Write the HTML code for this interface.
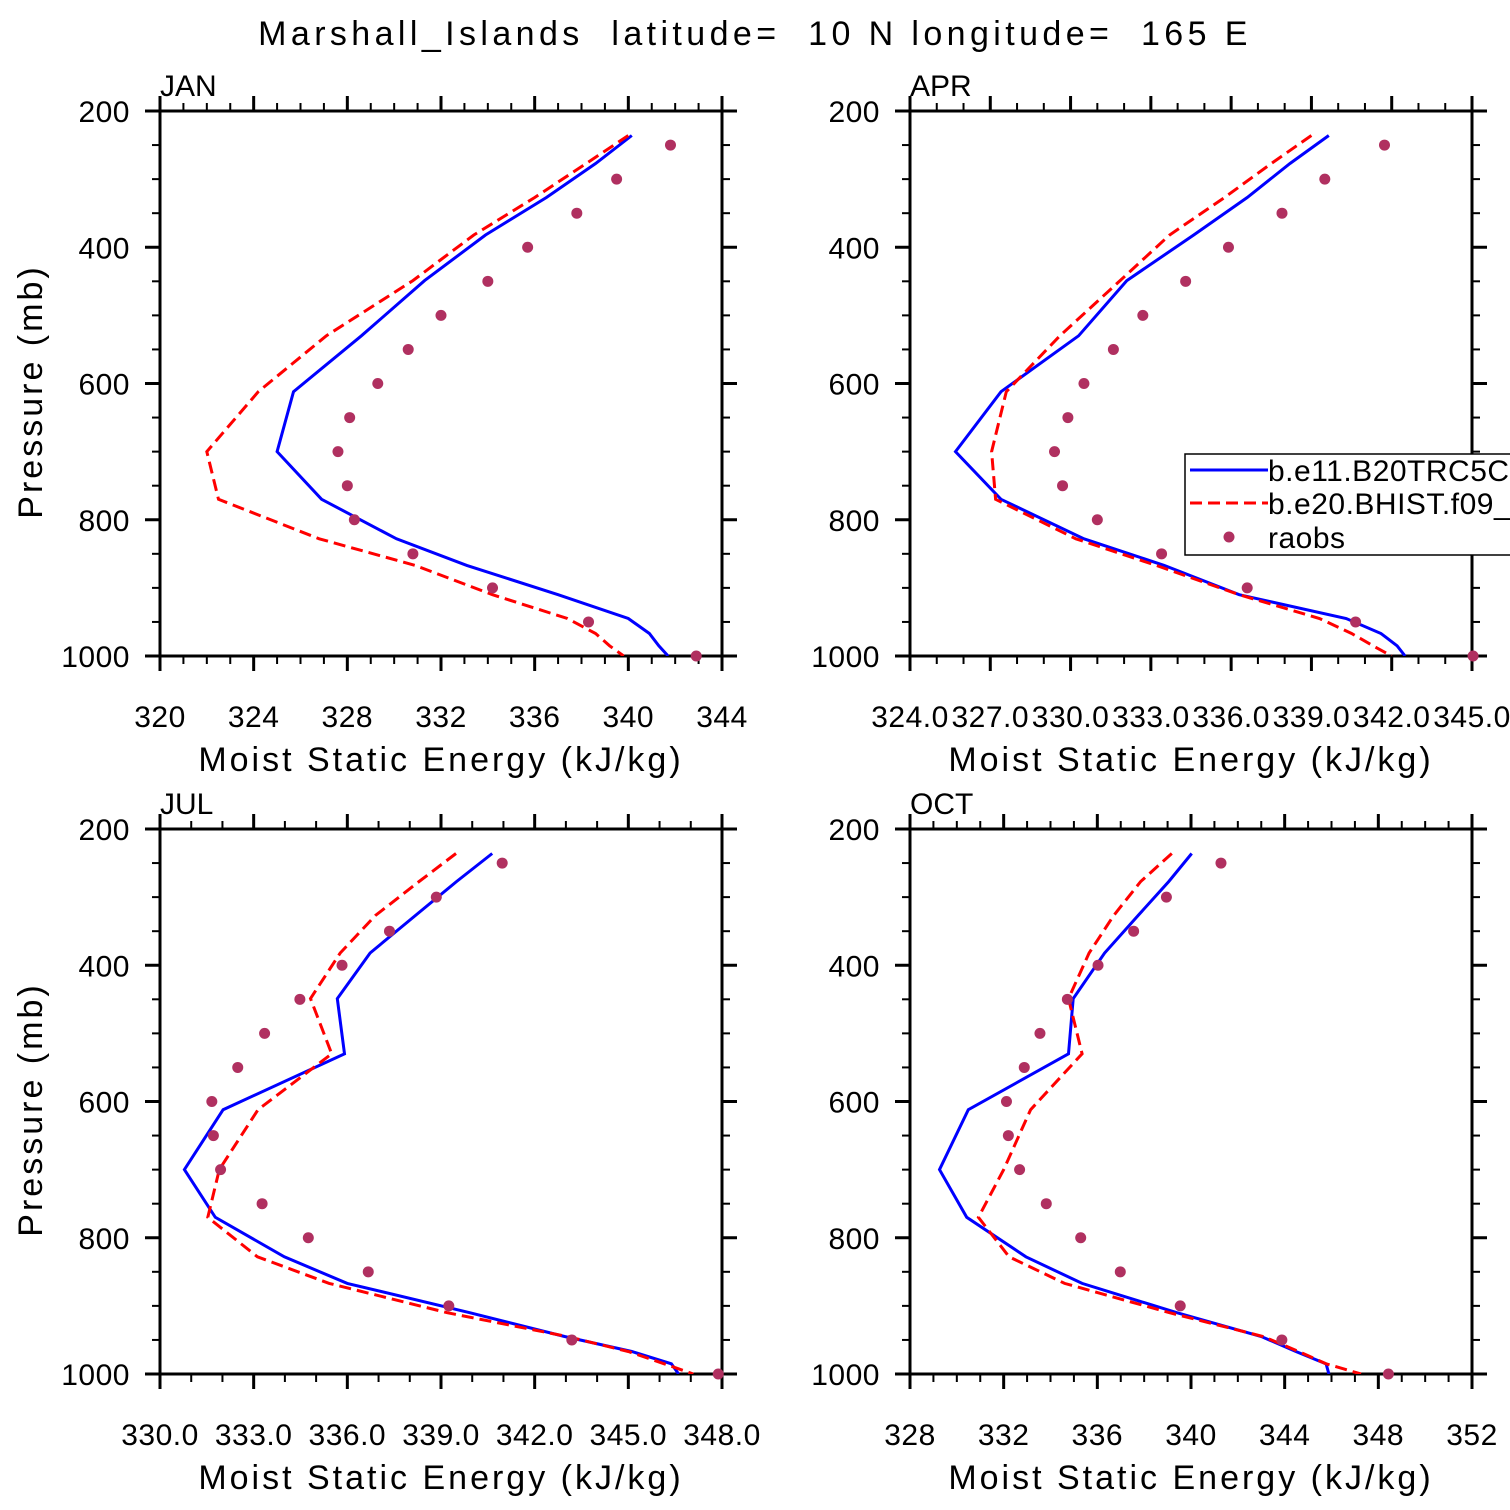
<!DOCTYPE html>
<html><head><meta charset="utf-8"><style>
html,body{margin:0;padding:0;background:#fff;}
svg{display:block;font-family:"Liberation Sans",sans-serif;}
text{white-space:pre;}
</style></head><body>
<svg id="fig" width="1510" height="1510" viewBox="0 0 1510 1510" xmlns="http://www.w3.org/2000/svg">
<rect width="1510" height="1510" fill="#fff"/>
<text x="755" y="45" font-size="34" text-anchor="middle" letter-spacing="4.4" xml:space="preserve">Marshall_Islands  latitude=  10 N longitude=  165 E</text>
</svg>
<script>
const modelLevels = [236,277,327,382,449,530,612,700,770,828,867,910,945,967,985,1000];
const obsLevels = [250,300,350,400,450,500,550,600,650,700,750,800,850,900,950,1000];
const pTicks = [200,400,600,800,1000];

const janBlue = [340.15,338.6,336.5,333.9,331.3,328.6,325.7,325.0,326.9,330.1,333.1,337.0,340.0,340.9,341.3,341.7];
const janRed = [340.0,338.2,336.0,333.4,330.8,327.1,324.2,322.0,322.5,326.8,330.9,334.2,337.4,338.6,339.2,339.8];
const janObs = [341.8,339.5,337.8,335.7,334.0,332.0,330.6,329.3,328.1,327.6,328.0,328.3,330.8,334.2,338.3,342.9];
const janTicks = [320,324,328,332,336,340,344];

const aprBlue = [339.65,338.2,336.6,334.6,332.1,330.3,327.4,325.7,327.4,330.5,333.5,336.3,340.3,341.6,342.2,342.5];
const aprRed = [339.0,337.5,335.75,333.7,331.85,329.6,327.6,327.05,327.2,330.2,333.2,336.3,339.3,340.5,341.3,342.0];
const aprObs = [341.73,339.5,337.9,335.9,334.3,332.7,331.6,330.5,329.9,329.4,329.7,331.0,333.4,336.6,340.65,345.04];
const aprTicks = [324,327,330,333,336,339,342,345];

const julBlue = [340.64,339.5,338.18,336.73,335.68,335.91,332.02,330.78,331.77,333.98,336.0,339.92,342.96,345.11,346.38,346.61];
const julRed = [339.48,338.3,336.9,335.77,334.82,335.5,333.14,331.9,331.53,333.12,335.42,339.2,343.04,345.0,346.15,347.08];
const julObs = [340.96,338.85,337.35,335.83,334.48,333.35,332.49,331.66,331.71,331.94,333.27,334.75,336.67,339.25,343.19,347.88];
const julTicks = [330,333,336,339,342,345,348];

const octBlue = [340.03,339.05,337.74,336.31,334.97,334.77,330.49,329.26,330.42,332.95,335.35,339.4,343.0,344.48,345.77,345.89];
const octRed = [339.18,337.85,336.7,335.65,334.77,335.35,333.15,332.0,330.92,332.23,334.6,339.08,343.08,344.6,345.77,347.26];
const octObs = [341.28,338.95,337.55,336.03,334.72,333.55,332.88,332.12,332.2,332.68,333.82,335.29,336.98,339.54,343.88,348.43];
const octTicks = [328,332,336,340,344,348,352];

const NS = "http://www.w3.org/2000/svg";
const svg = document.getElementById('fig');
function mk(tag, attrs, parent){
  const e = document.createElementNS(NS, tag);
  for (const k in attrs) e.setAttribute(k, attrs[k]);
  (parent||svg).appendChild(e);
  return e;
}

function panel(cfg){
  const L=cfg.x, T=cfg.y, W=562, H=545;
  const xmin=cfg.ticks[0], xmax=cfg.ticks[cfg.ticks.length-1];
  const xs = v => L + (v-xmin)/(xmax-xmin)*W;
  const ys = p => T + (p-200)/800*H;
  const g = mk('g', {});
  
  
  const cp = mk('clipPath', {id:'clip-'+cfg.name}, g);
  mk('rect', {x:L, y:T, width:W+60, height:H}, cp);

  const step = cfg.ticks[1]-cfg.ticks[0];
  const mstep = cfg.minor;
  for (let v=xmin; v<=xmax+1e-9; v+=mstep){
    const isMaj = Math.abs(((v-xmin)/step)-Math.round((v-xmin)/step))<1e-6;
    const len = isMaj?15:8;
    const x=xs(v);
    const t1 = mk('line',{x1:x,y1:T+H,x2:x,y2:T+H+len,stroke:'#000','stroke-width':isMaj?3:2},g);
    
    
    const t2 = mk('line',{x1:x,y1:T,x2:x,y2:T-len,stroke:'#000','stroke-width':isMaj?3:2},g);
    
    
  }
  cfg.ticks.forEach(v=>{
    const t = mk('text',{x:xs(v),y:T+H+71,'font-size':30,'text-anchor':'middle','letter-spacing':0.5},g);
    t.textContent = cfg.fmt(v);
    
    
  });
  for (let p=200;p<=1000;p+=50){
    const isMaj = p%200===0;
    const len = isMaj?15:8;
    const y=ys(p);
    const a = mk('line',{x1:L,y1:y,x2:L-len,y2:y,stroke:'#000','stroke-width':isMaj?3:2},g);
    
    
    const b = mk('line',{x1:L+W,y1:y,x2:L+W+len,y2:y,stroke:'#000','stroke-width':isMaj?3:2},g);
    
    
  }
  pTicks.forEach(p=>{
    const t = mk('text',{x:L-30,y:ys(p)+11,'font-size':30,'text-anchor':'end','letter-spacing':0.5},g);
    t.textContent = String(p);
    
    
  });
  const fr = mk('rect',{x:L,y:T,width:W,height:H,fill:'none',stroke:'#000','stroke-width':3},g);
  
  

  const pt = mk('text',{x:L,y:T-15,'font-size':30},g);
  pt.textContent = cfg.label;
  
  
  const xt = mk('text',{x:L+W/2,y:T+H+115,'font-size':34,'text-anchor':'middle','letter-spacing':3},g);
  xt.textContent = 'Moist Static Energy (kJ/kg)';
  
  
  if (cfg.ylab){
    const yt = mk('text',{x:0,y:0,'font-size':34,'text-anchor':'middle','letter-spacing':3,transform:`translate(42,${T+H/2+8}) rotate(-90)`},g);
    yt.textContent = 'Pressure (mb)';
    
    
  }

  const data = mk('g',{'clip-path':`url(#clip-${cfg.name})`},g);
  const bp = modelLevels.map((p,i)=>xs(cfg.blue[i]).toFixed(1)+','+ys(p).toFixed(1)).join(' ');
  const bl = mk('polyline',{points:bp,fill:'none',stroke:'#0000ff','stroke-width':3,'stroke-linejoin':'miter'},data);
  
  
  const rp = modelLevels.map((p,i)=>xs(cfg.red[i]).toFixed(1)+','+ys(p).toFixed(1)).join(' ');
  const rl = mk('polyline',{points:rp,fill:'none',stroke:'#ff0000','stroke-width':3,'stroke-dasharray':'12,6'},data);
  
  
  obsLevels.forEach((p,i)=>{
    const c = mk('circle',{cx:xs(cfg.obs[i]),cy:ys(p),r:5.5,fill:'#b03060'},g);
    
    
  });
}

panel({name:'jan',label:'JAN',x:160,y:111,ticks:janTicks,minor:1,fmt:v=>String(v),blue:janBlue,red:janRed,obs:janObs,ylab:true});
panel({name:'apr',label:'APR',x:910,y:111,ticks:aprTicks,minor:1,fmt:v=>v.toFixed(1),blue:aprBlue,red:aprRed,obs:aprObs,ylab:false});
panel({name:'jul',label:'JUL',x:160,y:829,ticks:julTicks,minor:1,fmt:v=>v.toFixed(1),blue:julBlue,red:julRed,obs:julObs,ylab:true});
panel({name:'oct',label:'OCT',x:910,y:829,ticks:octTicks,minor:1,fmt:v=>String(v),blue:octBlue,red:octRed,obs:octObs,ylab:false});

const lg = mk('g',{});


mk('rect',{x:1185,y:454,width:340,height:101,fill:'#fff',stroke:'#000','stroke-width':1.5},lg);
const l1 = mk('line',{x1:1190,y1:470,x2:1268,y2:470,stroke:'#0000ff','stroke-width':3},lg);


const t1 = mk('text',{x:1268,y:481,'font-size':30,'letter-spacing':0.5},lg);
t1.textContent='b.e11.B20TRC5CNBDRD';


const l2 = mk('line',{x1:1190,y1:503,x2:1268,y2:503,stroke:'#ff0000','stroke-width':3,'stroke-dasharray':'12,6'},lg);


const t2 = mk('text',{x:1268,y:514,'font-size':30,'letter-spacing':0.5},lg);
t2.textContent='b.e20.BHIST.f09_g17';


const c3 = mk('circle',{cx:1229,cy:537,r:5.5,fill:'#b03060'},lg);


const t3 = mk('text',{x:1268,y:548,'font-size':30,'letter-spacing':0.5},lg);
t3.textContent='raobs';


</script>
</body></html>
